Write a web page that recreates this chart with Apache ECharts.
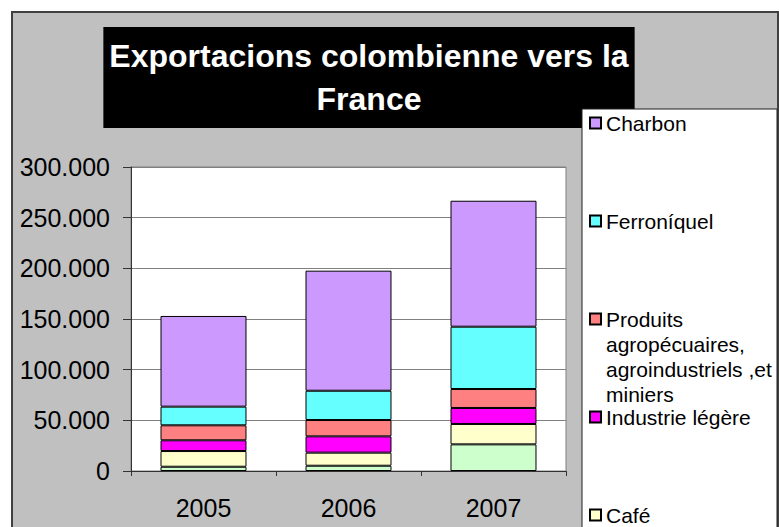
<!DOCTYPE html>
<html>
<head>
<meta charset="utf-8">
<script src="https://cdn.jsdelivr.net/npm/echarts@6/dist/echarts.min.js"></script>
<style>
html,body{margin:0;padding:0;background:#fff;}
#chart{width:779px;height:527px;}
</style>
</head>
<body>
<div id="chart"></div>
<script>
const categories = ['2005', '2006', '2007'];
const autres = [4200, 5200, 26300];
const cafe = [15500, 12900, 20100];
const industrie = [10600, 16100, 15800];
const produits = [14800, 16100, 18700];
const ferroniquel = [18400, 28900, 61500];
const charbon = [89500, 118500, 124300];

const FONT = "'Liberation Sans', Arial, sans-serif";
const produitsName = 'Produits\nagropécuaires,\nagroindustriels ,et\nminiers';

function fmt(v) {
  if (v === 0) return '0';
  const s = String(Math.round(v));
  return s.replace(/\B(?=(\d{3})+(?!\d))/g, '.');
}

const seriesDefs = [
  { name: 'Autres', data: autres, color: '#CCFFCC' },
  { name: 'Café', data: cafe, color: '#FFFFCC' },
  { name: 'Industrie légère', data: industrie, color: '#FF00FF' },
  { name: produitsName, data: produits, color: '#FF8080' },
  { name: 'Ferroníquel', data: ferroniquel, color: '#66FFFF' },
  { name: 'Charbon', data: charbon, color: '#CC99FF' }
];

function legendFor(name, top, extra) {
  return Object.assign({
    data: [name], left: 589, top: top, orient: 'vertical', padding: 0,
    itemWidth: 11, itemHeight: 11, icon: 'rect', itemGap: 0, selectedMode: false,
    z: 20,
    textStyle: { fontSize: 21, fontFamily: FONT, color: '#000', lineHeight: 24 }
  }, extra || {});
}

const chart = echarts.init(document.getElementById('chart'), null, { renderer: 'svg' });
chart.setOption({
  animation: false,
  backgroundColor: '#fff',
  title: {
    text: 'Exportacions colombienne vers la\nFrance',
    left: 363, top: 27,
    textAlign: 'center',
    padding: [7, 6, 8, 6],
    backgroundColor: '#000',
    textStyle: { color: '#fff', fontSize: 32, fontWeight: 'bold', fontFamily: FONT, lineHeight: 43 }
  },
  graphic: [
    { type: 'rect', z: -10, shape: { x: 12, y: 12, width: 766, height: 530 },
      style: { fill: '#C0C0C0', stroke: '#404040', lineWidth: 2 } },
    { type: 'rect', z: 10, shape: { x: 582, y: 109, width: 195, height: 440 },
      style: { fill: '#fff', stroke: '#202020', lineWidth: 1 } }
  ],
  legend: [
    legendFor('Charbon', 111),
    legendFor('Ferroníquel', 209),
    legendFor(produitsName, 231.5, {
      formatter: function (n) { return '\n\n\n' + n; },
      textStyle: { fontSize: 21, fontFamily: FONT, color: '#000', lineHeight: 25 }
    }),
    legendFor('Industrie légère', 405),
    legendFor('Café', 503)
  ],
  grid: {
    left: 131, top: 167, right: 213, bottom: 56,
    show: true, backgroundColor: '#fff', borderColor: '#808080', borderWidth: 1
  },
  xAxis: {
    type: 'category', data: categories,
    axisLine: { lineStyle: { color: '#333', width: 1 } },
    axisTick: { show: true, length: 5, lineStyle: { color: '#333' } },
    axisLabel: { fontSize: 25, fontFamily: FONT, color: '#000', margin: 24 }
  },
  yAxis: {
    type: 'value', min: 0, max: 300000, interval: 50000,
    axisLine: { show: true, lineStyle: { color: '#333', width: 1 } },
    axisTick: { show: true, length: 8, lineStyle: { color: '#333' } },
    splitLine: { show: true, lineStyle: { color: '#808080', width: 1 } },
    axisLabel: { fontSize: 25, fontFamily: FONT, color: '#000', margin: 21, formatter: fmt }
  },
  series: seriesDefs.map(s => ({
    name: s.name, type: 'bar', stack: 'total', data: s.data,
    barWidth: '59.3%',
    itemStyle: { color: s.color, borderColor: '#000', borderWidth: 1 }
  }))
});
</script>
</body>
</html>
